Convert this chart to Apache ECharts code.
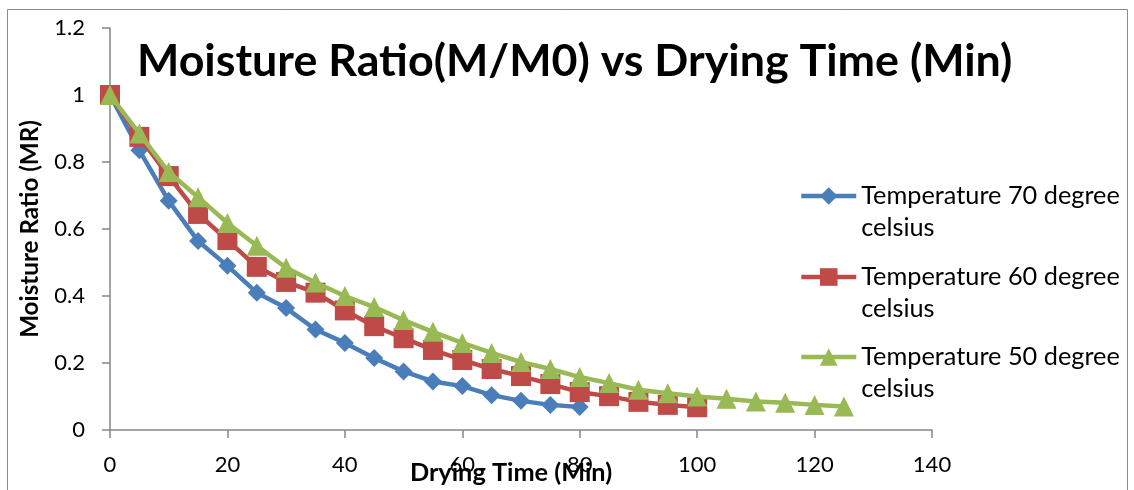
<!DOCTYPE html>
<html>
<head>
<meta charset="utf-8">
<script src="https://cdn.jsdelivr.net/npm/echarts@6/dist/echarts.min.js"></script>
<style>
  html, body { margin: 0; padding: 0; background: #fff; }
  #chart { width: 1134px; height: 490px; }
</style>
</head>
<body>
<div id="chart"></div>
<script>
// Drying time (min) and moisture ratio M/M0 for each drying temperature
const time70 = [0, 5, 10, 15, 20, 25, 30, 35, 40, 45, 50, 55, 60, 65, 70, 75, 80];
const mr70   = [1, 0.835, 0.684, 0.564, 0.49, 0.41, 0.364, 0.30, 0.26, 0.215, 0.175, 0.145, 0.131, 0.104, 0.087, 0.075, 0.069];

const time60 = [0, 5, 10, 15, 20, 25, 30, 35, 40, 45, 50, 55, 60, 65, 70, 75, 80, 85, 90, 95, 100];
const mr60   = [1, 0.875, 0.758, 0.645, 0.567, 0.487, 0.442, 0.41, 0.357, 0.31, 0.274, 0.239, 0.209, 0.182, 0.161, 0.137, 0.113, 0.101, 0.084, 0.075, 0.068];

const time50 = [0, 5, 10, 15, 20, 25, 30, 35, 40, 45, 50, 55, 60, 65, 70, 75, 80, 85, 90, 95, 100, 105, 110, 115, 120, 125];
const mr50   = [1, 0.885, 0.77, 0.695, 0.618, 0.55, 0.484, 0.44, 0.40, 0.367, 0.328, 0.293, 0.26, 0.23, 0.203, 0.182, 0.158, 0.14, 0.12, 0.11, 0.10, 0.093, 0.085, 0.081, 0.075, 0.07];

const seriesNames = ['Temperature 70 degree celsius', 'Temperature 60 degree celsius', 'Temperature 50 degree celsius'];
const titleText = 'Moisture Ratio(M/M0) vs Drying Time (Min)';
const xName = 'Drying Time (Min)';
const yName = 'Moisture Ratio (MR)';

const FONT = 'Lato, "Open Sans", sans-serif';

// pick a font size so that a string renders at a given width
function fitSize(text, weight, target) {
  const ctx = document.createElement('canvas').getContext('2d');
  ctx.font = weight + ' 100px ' + FONT;
  return Math.round(100 * target / ctx.measureText(text).width * 10) / 10;
}

const titleSize  = fitSize(titleText, 'bold', 876);
const xNameSize  = fitSize(xName, 'bold', 202);
const yNameSize  = fitSize(yName, 'bold', 218);
const legendSize = 25.3;
const tickSize   = 22;

const pairs = (xs, ys) => xs.map((x, i) => [x, ys[i]]);
// blank first line keeps the icon level with the first text line
const wrapName = n => '\n' + n.replace(' celsius', '\ncelsius');

const colors = ['#4A7EBB', '#BE4B48', '#98B954'];
const symbols = ['diamond', 'rect', 'triangle'];
const symbolSizes = [18, 20, 20];
const dataSets = [pairs(time70, mr70), pairs(time60, mr60), pairs(time50, mr50)];
const legendTops = [196, 277, 357];

const axisGray = '#868686';

const chart = echarts.init(document.getElementById('chart'), null, { renderer: 'canvas' });

chart.setOption({
  animation: false,
  backgroundColor: '#fff',
  title: {
    text: titleText,
    left: 137,
    top: 62 - titleSize / 2,
    padding: 0,
    textStyle: { fontFamily: FONT, fontWeight: 'bold', fontSize: titleSize, lineHeight: titleSize, color: '#000' }
  },
  legend: seriesNames.map((name, i) => ({
    data: [name],
    orient: 'vertical',
    left: 799,
    top: legendTops[i] - 48,
    padding: 0,
    itemGap: 0,
    itemWidth: 55,
    itemHeight: 22,
    formatter: wrapName,
    selectedMode: false,
    lineStyle: { width: 4.5 },
    textStyle: { fontFamily: FONT, fontSize: legendSize, lineHeight: 32, color: '#000' }
  })),
  grid: { left: 110, right: 202, top: 28, bottom: 60, containLabel: false, outerBoundsMode: 'none' },
  xAxis: {
    type: 'value',
    min: 0, max: 140, interval: 20,
    name: xName,
    nameLocation: 'middle',
    nameGap: 43 - xNameSize / 2,
    nameMoveOverlap: false,
    nameTextStyle: { fontFamily: FONT, fontWeight: 'bold', fontSize: xNameSize, lineHeight: xNameSize, color: '#000', padding: [0, 20, 0, 0] },
    axisLine: { show: true, lineStyle: { color: axisGray, width: 1.5 } },
    axisTick: { show: true, length: 8, lineStyle: { color: axisGray, width: 1.5 } },
    axisLabel: { fontFamily: FONT, fontSize: tickSize, color: '#000', margin: 24 },
    splitLine: { show: false }
  },
  yAxis: {
    type: 'value',
    min: 0, max: 1.2, interval: 0.2,
    name: yName,
    nameLocation: 'middle',
    nameGap: 68,
    nameMoveOverlap: false,
    nameTextStyle: { fontFamily: FONT, fontWeight: 'bold', fontSize: yNameSize, color: '#000' },
    axisLine: { show: true, lineStyle: { color: axisGray, width: 1.5 } },
    axisTick: { show: true, length: 8, lineStyle: { color: axisGray, width: 1.5 } },
    axisLabel: { fontFamily: FONT, fontSize: tickSize, color: '#000', margin: 25 },
    splitLine: { show: false }
  },
  graphic: [{
    type: 'rect',
    shape: { x: 7.5, y: 9.5, width: 1120, height: 500 },
    style: { fill: 'none', stroke: '#8a8a8a', lineWidth: 1 },
    silent: true,
    z: -10
  }],
  series: seriesNames.map((name, i) => ({
    name,
    type: 'line',
    data: dataSets[i],
    symbol: symbols[i],
    symbolSize: symbolSizes[i],
    color: colors[i],
    lineStyle: { width: 4.5, color: colors[i] },
    itemStyle: { color: colors[i], borderWidth: 0 },
    emphasis: { disabled: true },
    z: 2 + i
  }))
});
</script>
</body>
</html>
